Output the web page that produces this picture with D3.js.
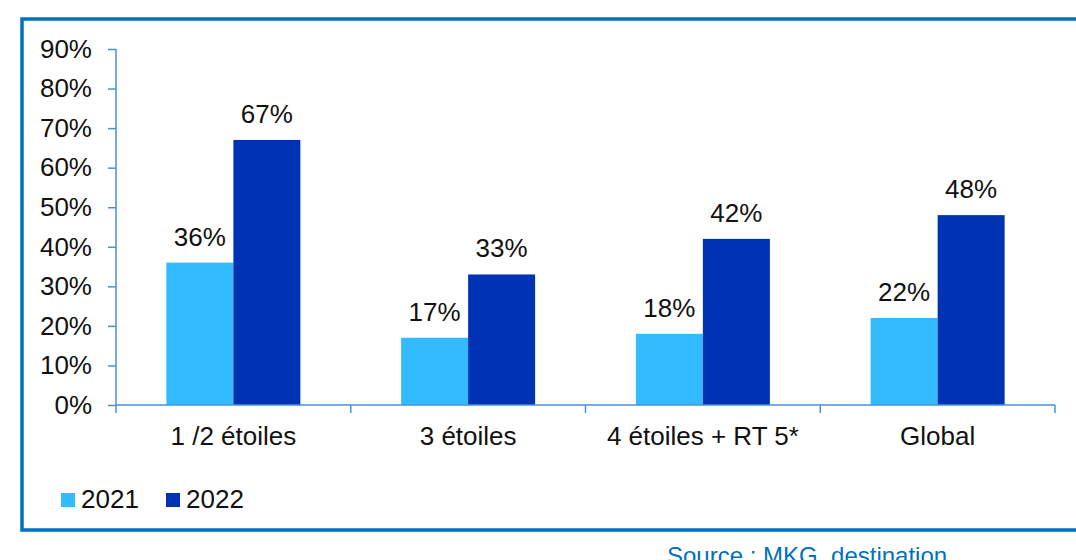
<!DOCTYPE html>
<html>
<head>
<meta charset="utf-8">
<script src="https://cdn.jsdelivr.net/npm/d3@7"></script>
<style>
    body { margin: 0; background: #fff; }
    svg { display: block; font-family: "Liberation Sans", Arial, sans-serif; }
</style>
</head>
<body>
<div id="chart"></div>
<script>
    const categories = ["1 /2 étoiles", "3 étoiles", "4 étoiles + RT 5*", "Global"];
    const years = ["2021", "2022"];
    const values2021 = [0.36, 0.17, 0.18, 0.22];
    const values2022 = [0.67, 0.33, 0.42, 0.48];
    const yTicks = [0, 0.1, 0.2, 0.3, 0.4, 0.5, 0.6, 0.7, 0.8, 0.9];

    const width = 1076, height = 560;
    const colors = { "2021": "#33bbff", "2022": "#0033b4" };
    const axisColor = "#4a90d9";

    const svg = d3.select("#chart").append("svg")
        .attr("width", width)
        .attr("height", height);

    // outer frame (runs off the right edge like the original)
    svg.append("rect")
        .attr("x", 22).attr("y", 19)
        .attr("width", 1100).attr("height", 511)
        .attr("fill", "none")
        .attr("stroke", "#0070c0")
        .attr("stroke-width", 3.5);

    const x = d3.scaleBand().domain(categories).range([116, 1055]).padding(0);
    const xInner = d3.scaleBand().domain(years).range([0, x.bandwidth()])
        .paddingInner(0).paddingOuter(0.752);
    const y = d3.scaleLinear().domain([0, 0.9]).range([405, 49]);

    const fmt = d3.format(".0%");

    // y axis
    const yAxis = svg.append("g")
        .attr("transform", "translate(116,0)")
        .call(d3.axisLeft(y).tickValues(yTicks).tickFormat(fmt).tickSize(8).tickPadding(16));
    yAxis.select(".domain").attr("stroke", axisColor).attr("stroke-width", 1.5)
        .attr("d", `M0,${y(0.9)}V${y(0)}`);
    yAxis.selectAll(".tick line").attr("stroke", axisColor).attr("stroke-width", 1.5);
    yAxis.selectAll(".tick text")
        .attr("fill", "#111")
        .style("font-size", "26px");

    // bars
    const rows = categories.map((c, i) => ({ cat: c, vals: [values2021[i], values2022[i]] }));
    const group = svg.append("g").selectAll("g")
        .data(rows)
        .enter().append("g")
        .attr("transform", d => `translate(${x(d.cat)},0)`);

    group.selectAll("rect")
        .data(d => d.vals.map((v, j) => ({ year: years[j], v })))
        .enter().append("rect")
        .attr("x", d => xInner(d.year))
        .attr("y", d => y(d.v))
        .attr("width", xInner.bandwidth())
        .attr("height", d => y(0) - y(d.v))
        .attr("fill", d => colors[d.year]);

    group.selectAll("text.val")
        .data(d => d.vals.map((v, j) => ({ year: years[j], v })))
        .enter().append("text")
        .attr("class", "val")
        .attr("x", d => xInner(d.year) + xInner.bandwidth() / 2)
        .attr("y", d => y(d.v) - 17)
        .attr("text-anchor", "middle")
        .attr("fill", "#111")
        .style("font-size", "26px")
        .text(d => fmt(d.v));

    // x axis: baseline and category boundary ticks
    const xAxis = svg.append("g");
    xAxis.append("line")
        .attr("x1", 116).attr("x2", x.range()[1])
        .attr("y1", y(0)).attr("y2", y(0))
        .attr("stroke", axisColor).attr("stroke-width", 1.5);
    const bounds = categories.map(c => x(c)).concat([x.range()[1]]);
    xAxis.selectAll("line.tick")
        .data(bounds)
        .enter().append("line")
        .attr("class", "tick")
        .attr("x1", d => d).attr("x2", d => d)
        .attr("y1", y(0)).attr("y2", y(0) + 8)
        .attr("stroke", axisColor).attr("stroke-width", 1.5);
    xAxis.selectAll("text")
        .data(categories)
        .enter().append("text")
        .attr("x", d => x(d) + x.bandwidth() / 2)
        .attr("y", 445)
        .attr("text-anchor", "middle")
        .attr("fill", "#111")
        .style("font-size", "26px")
        .text(d => d);

    // legend
    const legendX = [61, 166];
    const legend = svg.append("g").selectAll("g")
        .data(years)
        .enter().append("g")
        .attr("transform", (d, i) => `translate(${legendX[i]},493)`);
    legend.append("rect")
        .attr("width", 14).attr("height", 14)
        .attr("fill", d => colors[d]);
    legend.append("text")
        .attr("x", 20).attr("y", 15)
        .attr("fill", "#111")
        .style("font-size", "26px")
        .text(d => d);

    // source note
    svg.append("text")
        .attr("x", 667).attr("y", 564)
        .attr("fill", "#0070c0")
        .style("font-size", "24px")
        .text("Source : MKG_destination");
</script>
</body>
</html>
